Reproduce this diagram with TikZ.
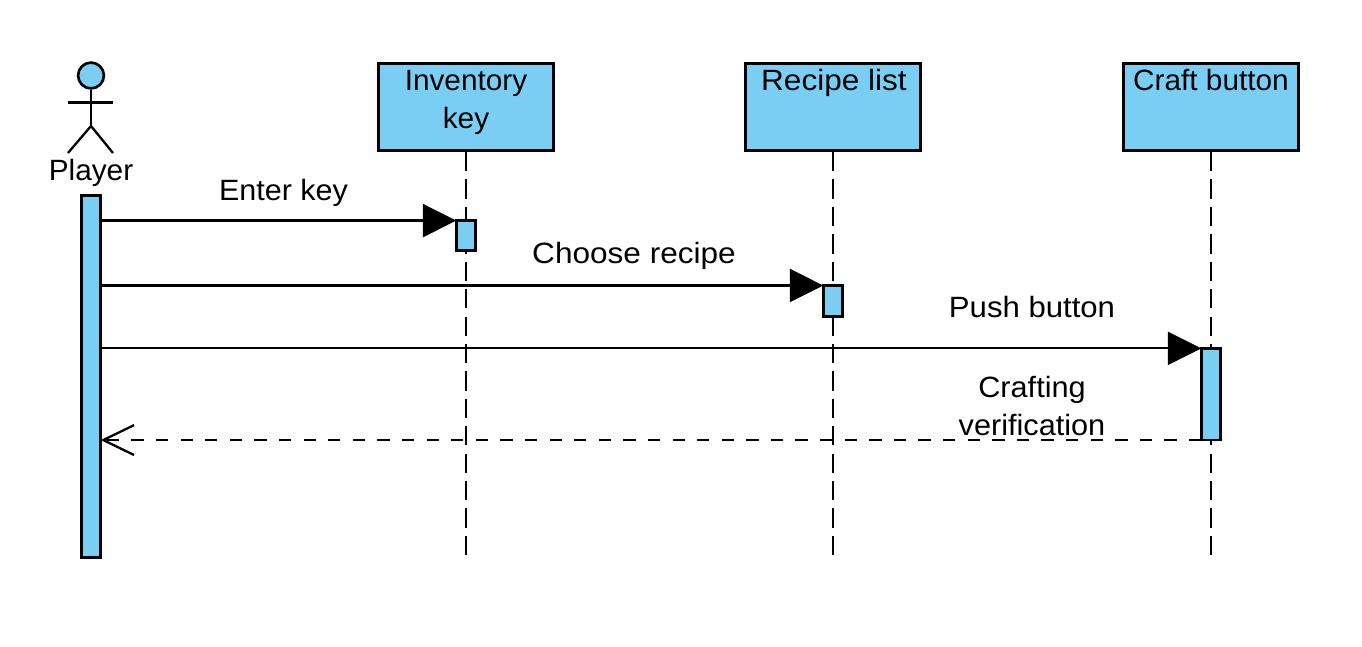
\documentclass[tikz,border=0pt]{standalone}
\usepackage{fontspec}
\setmainfont{Liberation Sans}
\usetikzlibrary{arrows.meta}
\definecolor{barblue}{HTML}{7ACEF4}
\tikzset{
	objbox/.style={draw, line width=1.5pt, fill=barblue, minimum width=99.6pt, minimum height=49.8pt, inner sep=0pt},
	actbar/.style={draw, line width=1.5pt, fill=barblue, minimum width=11pt, inner sep=0pt, outer sep=0pt},
	lifeline/.style={line width=1.3pt, dash pattern=on 11pt off 4.6pt},
	callmsg/.style={line width=1.3pt, -{Triangle[length=19pt, width=18.7pt]}},
	backmsg/.style={line width=1.3pt, dash pattern=on 7pt off 7pt, -{Straight Barb[length=17.5pt, width=17pt, line width=1.3pt]}},
	txt/.style={inner sep=0pt, align=center, xscale=1.015, font=\fontsize{16.7}{21.3}\selectfont},
	widetxt/.style={txt, xscale=1.06},
}
\begin{document}
\begin{tikzpicture}[x=0.02cm, y=-0.02cm]
		\useasboundingbox (0,0) rectangle (1362,646);
		% objects
		\node [objbox] (inventory) at (466,107) {};
		\node [objbox] (recipe) at (833,107) {};
		\node [objbox] (craft) at (1211,107) {};
		\node [txt] (inventorytxt) at (466,102.5) {Inventory\\key};
		\node [widetxt] (recipetxt) at (834,83) {Recipe list};
		\node [txt] (crafttxt) at (1211,80) {Craft button};
		% actor
		\node [draw, circle, line width=1.5pt, fill=barblue, minimum size=14.7pt, inner sep=0pt] (head) at (91,75.5) {};
		\coordinate (hip) at (91,126);
		\coordinate (arml) at (68,102.5);
		\coordinate (armr) at (113,102.5);
		\coordinate (footl) at (68,153);
		\coordinate (footr) at (113,153);
		\draw [line width=1.3pt] (head) -- (hip);
		\draw [line width=1.3pt] (arml) -- (armr);
		\draw [line width=1.3pt] (footl) -- (hip) -- (footr);
		\node [txt] (player) at (91,173) {Player};
		% life lines
		\coordinate (inventoryend) at (466,556);
		\coordinate (recipeend) at (833,556);
		\coordinate (craftend) at (1211,556);
		\draw [lifeline] (inventory.south) -- (inventoryend);
		\draw [lifeline] (recipe.south) -- (recipeend);
		\draw [lifeline] (craft.south) -- (craftend);
		% activation bars
		\node [actbar, minimum height=205.8pt] (playerbar) at (91,376.5) {};
		\node [actbar, minimum height=17pt] (inventorybar) at (466,235.5) {};
		\node [actbar, minimum height=17.6pt] (recipebar) at (833,301) {};
		\node [actbar, minimum height=52.2pt] (craftbar) at (1211,394.2) {};
		% messages
		\draw [callmsg] (playerbar.east |- inventorybar.north) -- (inventorybar.north west);
		\draw [callmsg] (playerbar.east |- recipebar.north) -- (recipebar.north west);
		\draw [callmsg] (playerbar.east |- craftbar.north) -- (craftbar.north west);
		\draw [backmsg] (craftbar.south west) -- (playerbar.east |- craftbar.south);
		\node [txt, xscale=1.025] (enterlabel) at (283.5,193) {Enter key};
		\node [widetxt] (chooselabel) at (634,256) {Choose recipe};
		\node [txt, xscale=1.045] (pushlabel) at (1032,307) {Push button};
		\node [txt, xscale=1.03] (verifylabel) at (1032,406) {Crafting\\verification};
	\end{tikzpicture}
\end{document}
